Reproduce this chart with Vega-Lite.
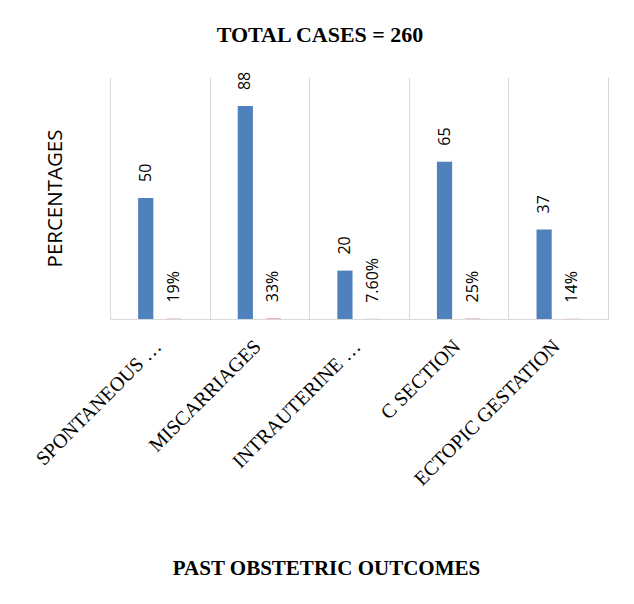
{
  "$schema": "https://vega.github.io/schema/vega-lite/v6.json",
  "width": 498,
  "height": 242,
  "autosize": {"type": "none"},
  "padding": {"left": 110, "top": 77, "right": 26, "bottom": 285},
  "background": "white",
  "title": {
    "text": "TOTAL CASES = 260",
    "font": "Liberation Serif",
    "fontSize": 22,
    "fontWeight": "bold",
    "color": "#000000",
    "anchor": "middle",
    "dx": -39,
    "offset": 25
  },
  "data": {
    "values": [
      {"outcome": "SPONTANEOUS …", "series": "Cases", "value": 50, "label": "50"},
      {"outcome": "SPONTANEOUS …", "series": "Percentage", "value": 0.19, "label": "19%"},
      {"outcome": "MISCARRIAGES", "series": "Cases", "value": 88, "label": "88"},
      {"outcome": "MISCARRIAGES", "series": "Percentage", "value": 0.33, "label": "33%"},
      {"outcome": "INTRAUTERINE …", "series": "Cases", "value": 20, "label": "20"},
      {"outcome": "INTRAUTERINE …", "series": "Percentage", "value": 0.076, "label": "7.60%"},
      {"outcome": "C SECTION", "series": "Cases", "value": 65, "label": "65"},
      {"outcome": "C SECTION", "series": "Percentage", "value": 0.25, "label": "25%"},
      {"outcome": "ECTOPIC GESTATION", "series": "Cases", "value": 37, "label": "37"},
      {"outcome": "ECTOPIC GESTATION", "series": "Percentage", "value": 0.14, "label": "14%"}
    ]
  },
  "encoding": {
    "x": {
      "field": "outcome",
      "type": "nominal",
      "sort": null,
      "scale": {"paddingInner": 0, "paddingOuter": 0},
      "axis": {
        "title": "PAST OBSTETRIC OUTCOMES",
        "titleFont": "Liberation Serif",
        "titleFontSize": 21,
        "titleFontWeight": "bold",
        "titleColor": "#000000",
        "titleX": 216,
        "titleY": 238,
        "labelFont": "Liberation Serif",
        "labelFontSize": 20,
        "labelColor": "#000000",
        "labelAngle": -45,
        "labelLimit": 300,
        "labelPadding": 17,
        "labelOffset": -9,
        "ticks": false,
        "grid": true,
        "tickBand": "extent",
        "gridColor": "#d9d9d9",
        "gridWidth": 1,
        "domainColor": "#d9d9d9",
        "domainWidth": 1
      }
    },
    "xOffset": {
      "field": "series",
      "type": "nominal",
      "scale": {"paddingInner": 0.46, "paddingOuter": 1.15}
    },
    "y": {
      "field": "value",
      "type": "quantitative",
      "scale": {"domain": [0, 100]},
      "axis": {
        "title": "PERCENTAGES",
        "titleFont": "Open Sans",
        "titleFontSize": 20.5,
        "titleFontWeight": "normal",
        "titleColor": "#000000",
        "titlePadding": 45,
        "labels": false,
        "ticks": false,
        "domain": false,
        "grid": false
      }
    }
  },
  "layer": [
    {
      "mark": {"type": "bar"},
      "encoding": {
        "color": {
          "field": "series",
          "type": "nominal",
          "scale": {"domain": ["Cases", "Percentage"], "range": ["#4F81BD", "#E8A09E"]},
          "legend": null
        }
      }
    },
    {
      "mark": {
        "type": "text",
        "angle": 270,
        "align": "left",
        "baseline": "middle",
        "dx": 16,
        "font": "Open Sans",
        "fontSize": 16,
        "color": "#000000"
      },
      "encoding": {
        "text": {"field": "label", "type": "nominal"}
      }
    }
  ],
  "config": {
    "view": {"stroke": null}
  }
}
